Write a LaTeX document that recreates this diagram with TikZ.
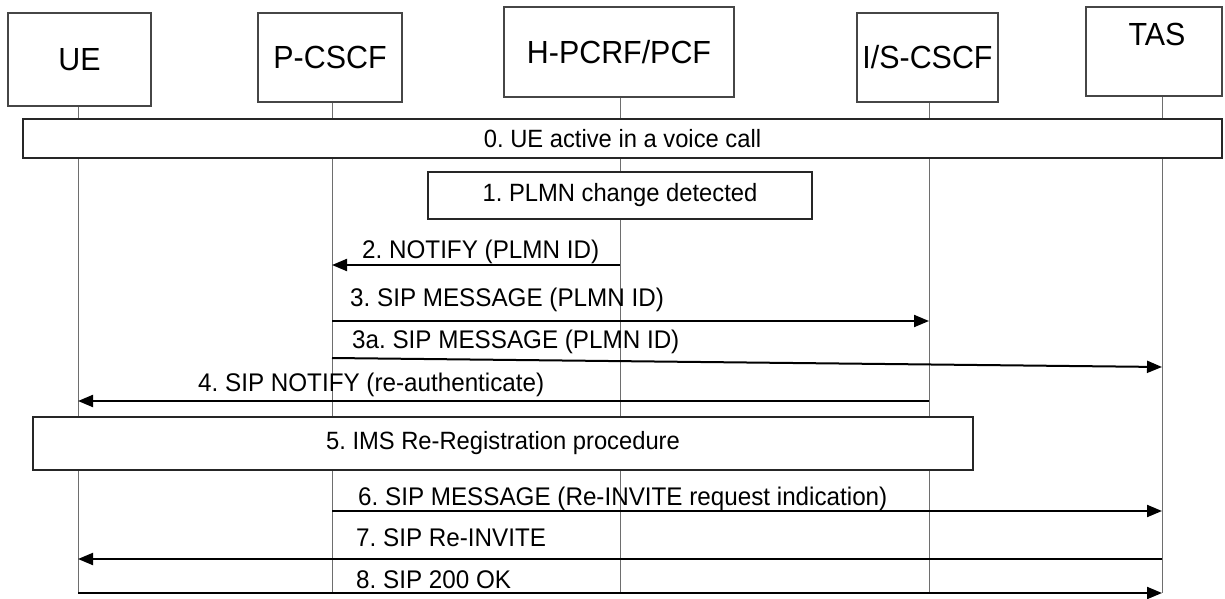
\documentclass[tikz,border=0pt]{standalone}
\usepackage{fontspec}
\setmainfont{Liberation Sans}[FakeStretch=0.95]
\usetikzlibrary{arrows.meta,positioning}

\definecolor{boxline}{RGB}{70,70,70}
\definecolor{lifegrey}{RGB}{110,110,110}

\begin{document}
\frenchspacing
\begin{tikzpicture}[x=1pt, y=-1pt,
    actor/.style={rectangle, draw=boxline, line width=1.2pt, fill=white,
        inner sep=0pt, font=\fontsize{32}{38}\selectfont},
    phase/.style={rectangle, draw=black!85, line width=1.4pt, fill=white,
        inner sep=0pt, font=\fontsize{25}{30}\selectfont},
    life/.style={draw=lifegrey, line width=1pt},
    msg/.style={-{Triangle[length=15pt, width=12pt]}, line width=2pt, black},
    msglbl/.style={anchor=base west, inner sep=0pt, font=\fontsize{25.5}{30}\selectfont}
]
    \useasboundingbox (0,0) rectangle (1225,599);

    % Lifelines first, boxes are filled on top of them
    \coordinate (uetop) at (78,90);      \coordinate (uebot) at (78,593);
    \coordinate (pcscftop) at (332,90);  \coordinate (pcscfbot) at (332,593);
    \coordinate (pcrftop) at (620,90);   \coordinate (pcrfbot) at (620,593);
    \coordinate (iscscftop) at (929,90); \coordinate (iscscfbot) at (929,593);
    \coordinate (tastop) at (1162,90);   \coordinate (tasbot) at (1162,593);
    \foreach \n in {ue, pcscf, pcrf, iscscf, tas}
        \draw[life] (\n top) -- (\n bot);

    % Entities
    \node[actor, minimum width=143pt, minimum height=93pt] (ue) at (79.5,59.5) {UE};
    \node[actor, minimum width=144pt, minimum height=89pt] (pcscf) at (330,57.5) {P-CSCF};
    \node[actor, minimum width=230pt, minimum height=90pt] (pcrf) at (619,52) {H-PCRF/PCF};
    \node[actor, minimum width=141pt, minimum height=89pt] (iscscf) at (927.5,57.5) {I/S-CSCF};
    \node[actor, minimum width=136pt, minimum height=89pt] (tas) at (1154,51.5) {};
    \node[font=\fontsize{32}{38}\selectfont, inner sep=0pt] (tastext) at (1157,34) {TAS};

    % Procedure boxes
    \node[phase, minimum width=1199pt, minimum height=39pt] (call) at (622.5,138.5)
        {0. UE active in a voice call};
    \node[phase, minimum width=384pt, minimum height=47pt] (plmn) at (620,195.5)
        {1. PLMN change detected};
    \node[phase, minimum width=940pt, minimum height=53pt] (rereg) at (503,443.5)
        {5. IMS Re-Registration procedure};

    % Messages
    \coordinate (m2s) at (pcrftop |- 0,265);   \coordinate (m2e) at (pcscftop |- 0,265);
    \coordinate (m3s) at (pcscftop |- 0,321);  \coordinate (m3e) at (iscscftop |- 0,321);
    \coordinate (m3as) at (pcscftop |- 0,358); \coordinate (m3ae) at (tastop |- 0,367);
    \coordinate (m4s) at (iscscftop |- 0,401); \coordinate (m4e) at (uetop |- 0,401);
    \coordinate (m6s) at (pcscftop |- 0,511);  \coordinate (m6e) at (tastop |- 0,511);
    \coordinate (m7s) at (tastop |- 0,559);    \coordinate (m7e) at (uetop |- 0,559);
    \coordinate (m8s) at (uetop |- 0,593);     \coordinate (m8e) at (tastop |- 0,593);

    \draw[msg] (m2s) -- (m2e);
    \draw[msg] (m3s) -- (m3e);
    \draw[msg] (m3as) -- (m3ae);
    \draw[msg] (m4s) -- (m4e);
    \draw[msg] (m6s) -- (m6e);
    \draw[msg] (m7s) -- (m7e);
    \draw[msg] (m8s) -- (m8e);

    \node[msglbl] (l2) at (362,258) {2. NOTIFY (PLMN ID)};
    \node[msglbl] (l3) at (350,306.5) {3. SIP MESSAGE (PLMN ID)};
    \node[msglbl] (l3a) at (352,348.5) {3a. SIP MESSAGE (PLMN ID)};
    \node[msglbl] (l4) at (198,391.5) {4. SIP NOTIFY (re-authenticate)};
    \node[msglbl] (l6) at (358,505.5) {6. SIP MESSAGE (Re-INVITE request indication)};
    \node[msglbl] (l7) at (356,546.5) {7. SIP Re-INVITE};
    \node[msglbl] (l8) at (356,588.5) {8. SIP 200 OK};
\end{tikzpicture}
\end{document}
